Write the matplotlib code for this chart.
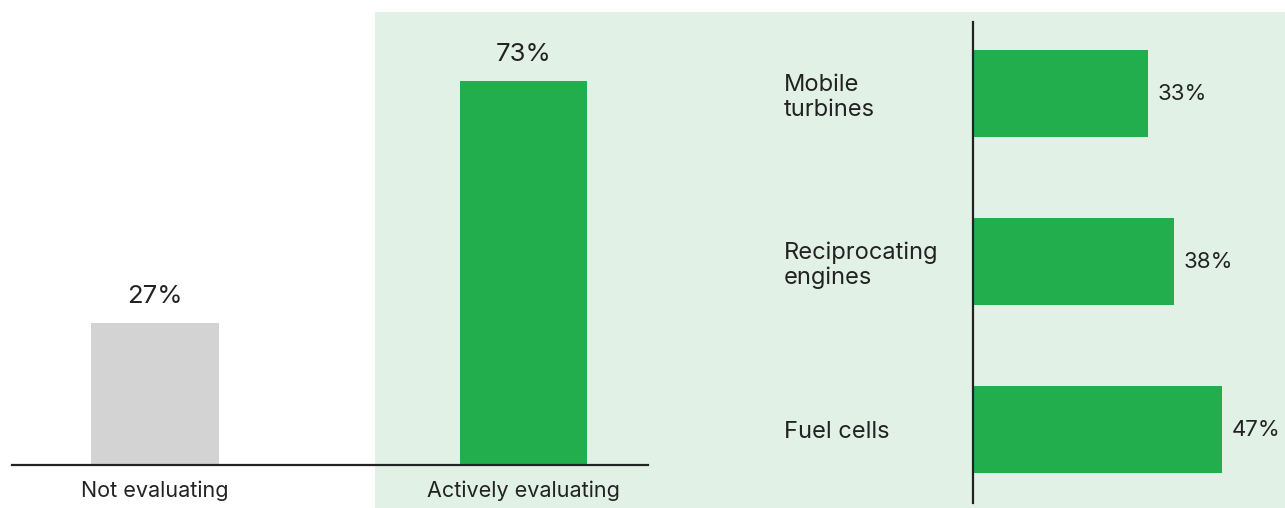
import matplotlib.pyplot as plt
from matplotlib.patches import Rectangle

# Share of respondents evaluating on-site power
status_labels = ["Not evaluating", "Actively evaluating"]
status_values = [27, 73]
status_colors = ["#D3D3D3", "#23AE4D"]

# Technologies being evaluated
tech_labels = ["Mobile\nturbines", "Reciprocating\nengines", "Fuel cells"]
tech_values = [33, 38, 47]

GREEN = "#23AE4D"
PANEL = "#E1F1E6"
INK = "#222222"

plt.rcParams["font.family"] = ["Inter", "DejaVu Sans"]

W, H = 1285, 508
fig = plt.figure(figsize=(W / 100, H / 100), dpi=100)
fig.patch.set_facecolor("white")


def px_box(x0, y0, x1, y1):
    """Convert a pixel box (top-left origin) to figure fractions."""
    return [x0 / W, 1 - y1 / H, (x1 - x0) / W, (y1 - y0) / H]


# light green panel behind the "actively evaluating" part
fig.patches.append(
    Rectangle((375 / W, 0), 1 - 375 / W, 1 - 12 / H,
              transform=fig.transFigure, facecolor=PANEL, edgecolor="none", zorder=-10)
)

# --- left: vertical bars -------------------------------------------------
ax1 = fig.add_axes(px_box(12, 44, 648, 465))
ax1.set_facecolor("none")
xpos = range(len(status_values))
bars = ax1.bar(xpos, status_values, width=0.347, color=status_colors, zorder=2)
ax1.set_xlim(-0.388, 1.338)
ax1.set_ylim(0, 80)
for rect, v in zip(bars, status_values):
    ax1.annotate(f"{v}%", (rect.get_x() + rect.get_width() / 2, v),
                 xytext=(0, 11), textcoords="offset points",
                 ha="center", va="bottom", fontsize=18.5, color=INK)
ax1.set_xticks(list(xpos))
ax1.set_xticklabels(status_labels, fontsize=15.5, color=INK)
ax1.tick_params(axis="x", length=0, pad=11)
ax1.set_yticks([])
for side in ("top", "right", "left"):
    ax1.spines[side].set_visible(False)
ax1.spines["bottom"].set_linewidth(1.6)
ax1.spines["bottom"].set_color(INK)

# --- right: horizontal bars ----------------------------------------------
ax2 = fig.add_axes(px_box(973, 22, W, 503))
ax2.set_facecolor("none")
ypos = range(len(tech_values))
hbars = ax2.barh(ypos, tech_values, height=0.518, color=GREEN, zorder=2)
ax2.set_xlim(0, 59)
ax2.set_ylim(2.4345, -0.4256)
for rect, v in zip(hbars, tech_values):
    ax2.annotate(f"{v}%", (v, rect.get_y() + rect.get_height() / 2),
                 xytext=(7, 0), textcoords="offset points",
                 ha="left", va="center", fontsize=16, color=INK,
                 annotation_clip=False)
ax2.set_yticks(list(ypos))
ax2.set_yticklabels(tech_labels, fontsize=17, color=INK, ha="left",
                    linespacing=1.15)
ax2.tick_params(axis="y", length=0, pad=136)
ax2.set_xticks([])
for side in ("top", "right", "bottom"):
    ax2.spines[side].set_visible(False)
ax2.spines["left"].set_linewidth(1.6)
ax2.spines["left"].set_color(INK)

fig.savefig("out.png", dpi=100)
